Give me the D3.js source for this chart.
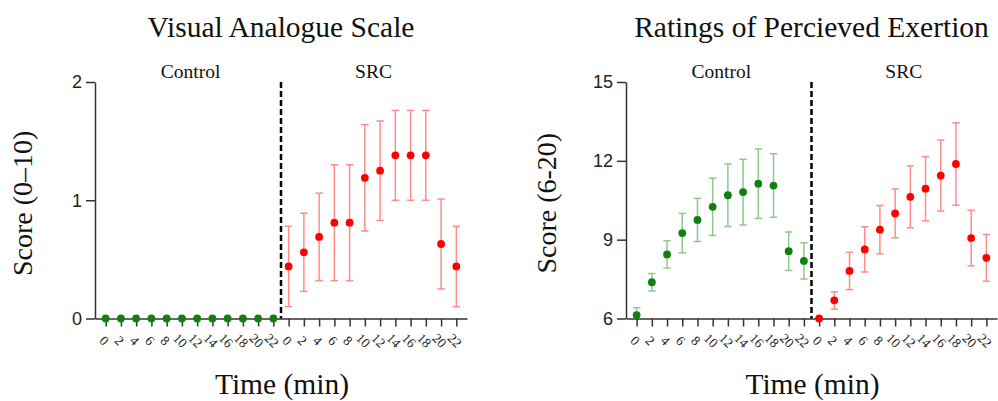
<!DOCTYPE html>
<html>
<head>
<meta charset="utf-8">
<script src="https://cdn.jsdelivr.net/npm/d3@7"></script>
<style>
  body { margin: 0; background: #fff; }
  svg { display: block; }
</style>
</head>
<body>
<div id="viz"></div>
<script>
// values (mean and error per time point)
var minutes = [0, 2, 4, 6, 8, 10, 12, 14, 16, 18, 20, 22];

var vasControl    = [0, 0, 0, 0, 0, 0, 0, 0, 0, 0, 0, 0];
var vasControlErr = [0, 0, 0, 0, 0, 0, 0, 0, 0, 0, 0, 0];
var vasSRC        = [0.44, 0.56, 0.69, 0.81, 0.81, 1.19, 1.25, 1.38, 1.38, 1.38, 0.63, 0.44];
var vasSRCErr     = [0.34, 0.33, 0.37, 0.49, 0.49, 0.45, 0.42, 0.38, 0.38, 0.38, 0.38, 0.34];

var rpeControl    = [6.13, 7.38, 8.44, 9.25, 9.75, 10.25, 10.69, 10.81, 11.13, 11.06, 8.56, 8.19];
var rpeControlErr = [0.28, 0.33, 0.52, 0.75, 0.82, 1.09, 1.19, 1.25, 1.32, 1.21, 0.73, 0.69];
var rpeSRC        = [6.0, 6.69, 7.81, 8.63, 9.38, 10.0, 10.63, 10.94, 11.44, 11.88, 9.06, 8.31];
var rpeSRCErr     = [0, 0.33, 0.71, 0.86, 0.92, 0.93, 1.18, 1.22, 1.35, 1.57, 1.06, 0.89];

var conditions = ["Control", "SRC"];

var serif = "'Liberation Serif', 'Times New Roman', serif",
    sans = "'Liberation Sans', Arial, sans-serif";

var width = 998, height = 401;

var svg = d3.select("div#viz")
            .append("svg")
            .attr("width", width)
            .attr("height", height);

var colors = {
  "Control": {dot: "#118011", bar: "#8fc88f"},
  "SRC": {dot: "#ff0000", bar: "#ff8c8c"}
};

function drawPanel(opt) {
  var top = 82, bottom = 318.5;

  // 24 slots: control 0..22 then SRC 0..22
  var keys = [];
  conditions.forEach(function(c) {
    minutes.forEach(function(m) { keys.push(c + "_" + m); });
  });

  var xScale = d3.scalePoint()
                 .domain(keys)
                 .range([opt.left, opt.right])
                 .padding(0.7);

  var yScale = d3.scaleLinear()
                 .domain(opt.yDomain)
                 .range([bottom, top]);

  var g = svg.append("g");

  // title
  g.append("text")
   .attr("x", (opt.left + opt.right) / 2)
   .attr("y", 37)
   .attr("text-anchor", "middle")
   .style("font-family", serif)
   .style("font-size", "29.5px")
   .style("fill", "#111")
   .text(opt.title);

  // condition labels
  conditions.forEach(function(c) {
    var a = xScale(c + "_" + minutes[0]),
        b = xScale(c + "_" + minutes[minutes.length - 1]);
    g.append("text")
     .attr("x", (a + b) / 2 + 1)
     .attr("y", 77.5)
     .attr("text-anchor", "middle")
     .style("font-family", serif)
     .style("font-size", "19.5px")
     .style("fill", "#111")
     .text(c);
  });

  // y axis
  var yAxis = d3.axisLeft(yScale)
                .tickValues(opt.yTicks)
                .tickFormat(d3.format("d"))
                .tickSize(9)
                .tickSizeOuter(0)
                .tickPadding(4);
  var ya = g.append("g")
            .attr("transform", "translate(" + opt.left + ",0)")
            .call(yAxis);
  ya.select(".domain").attr("stroke", "#333").attr("stroke-width", 1.5);
  ya.selectAll(".tick line").attr("stroke", "#333").attr("stroke-width", 1.5);
  ya.selectAll(".tick text")
    .style("font-family", sans)
    .style("font-size", "18px")
    .style("fill", "#222");

  // x axis
  var xAxis = d3.axisBottom(xScale)
                .tickSize(8)
                .tickSizeOuter(0)
                .tickFormat(function(d) { return d.split("_")[1]; });
  var xa = g.append("g")
            .attr("transform", "translate(0," + bottom + ")")
            .call(xAxis);
  xa.select(".domain").attr("stroke", "#333").attr("stroke-width", 1.5);
  xa.selectAll(".tick line").attr("stroke", "#333").attr("stroke-width", 1.5);
  xa.selectAll(".tick text")
    .attr("y", 0)
    .attr("dy", "0.35em")
    .attr("transform", "translate(-2,22) rotate(45)")
    .style("text-anchor", "middle")
    .style("font-family", serif)
    .style("font-size", "13.5px")
    .style("fill", "#222");

  // y axis label
  g.append("text")
   .attr("transform", "translate(" + opt.yLabelX + "," + ((top + bottom) / 2 + 3) + ") rotate(-90)")
   .attr("text-anchor", "middle")
   .style("font-family", serif)
   .style("font-size", "28px")
   .style("fill", "#111")
   .text(opt.yLabel);

  // x axis label
  g.append("text")
   .attr("x", (opt.left + opt.right) / 2 + 1)
   .attr("y", 394)
   .attr("text-anchor", "middle")
   .style("font-family", serif)
   .style("font-size", "29.5px")
   .style("fill", "#111")
   .text("Time (min)");

  // dashed separator between conditions
  var sepX = (xScale("Control_22") + xScale("SRC_0")) / 2;
  g.append("line")
   .attr("x1", sepX).attr("x2", sepX)
   .attr("y1", top).attr("y2", bottom)
   .attr("stroke", "#000")
   .attr("stroke-width", 2.5)
   .attr("stroke-dasharray", "6,3");

  // error bars and dots
  conditions.forEach(function(c, ci) {
    var means = opt.means[ci], errs = opt.errs[ci];
    var pts = minutes.map(function(m, i) {
      return {key: c + "_" + m, mean: means[i], err: errs[i]};
    });
    var col = colors[c];
    var lo = function(d) { return yScale(Math.max(opt.yDomain[0], d.mean - d.err)); },
        hi = function(d) { return yScale(d.mean + d.err); };

    var bars = g.append("g")
                .selectAll("g")
                .data(pts.filter(function(d) { return d.err > 0; }))
                .enter()
                .append("g")
                .attr("stroke", col.bar)
                .attr("stroke-width", 1.5);
    bars.append("line")
        .attr("x1", function(d) { return xScale(d.key); })
        .attr("x2", function(d) { return xScale(d.key); })
        .attr("y1", hi)
        .attr("y2", lo);
    bars.append("line")
        .attr("x1", function(d) { return xScale(d.key) - 3.7; })
        .attr("x2", function(d) { return xScale(d.key) + 3.7; })
        .attr("y1", hi)
        .attr("y2", hi);
    bars.filter(function(d) { return d.mean - d.err > opt.yDomain[0]; })
        .append("line")
        .attr("x1", function(d) { return xScale(d.key) - 3.7; })
        .attr("x2", function(d) { return xScale(d.key) + 3.7; })
        .attr("y1", lo)
        .attr("y2", lo);

    g.append("g")
     .selectAll("circle")
     .data(pts)
     .enter()
     .append("circle")
     .attr("cx", function(d) { return xScale(d.key); })
     .attr("cy", function(d) { return yScale(d.mean); })
     .attr("r", 3.9)
     .attr("fill", col.dot);
  });
}

drawPanel({
  left: 95, right: 467,
  title: "Visual Analogue Scale",
  yLabel: "Score (0\u201310)",
  yLabelX: 32,
  yDomain: [0, 2],
  yTicks: [0, 1, 2],
  means: [vasControl, vasSRC],
  errs: [vasControlErr, vasSRCErr]
});

drawPanel({
  left: 626, right: 997,
  title: "Ratings of Percieved Exertion",
  yLabel: "Score (6-20)",
  yLabelX: 556,
  yDomain: [6, 15],
  yTicks: [6, 9, 12, 15],
  means: [rpeControl, rpeSRC],
  errs: [rpeControlErr, rpeSRCErr]
});
</script>
</body>
</html>
